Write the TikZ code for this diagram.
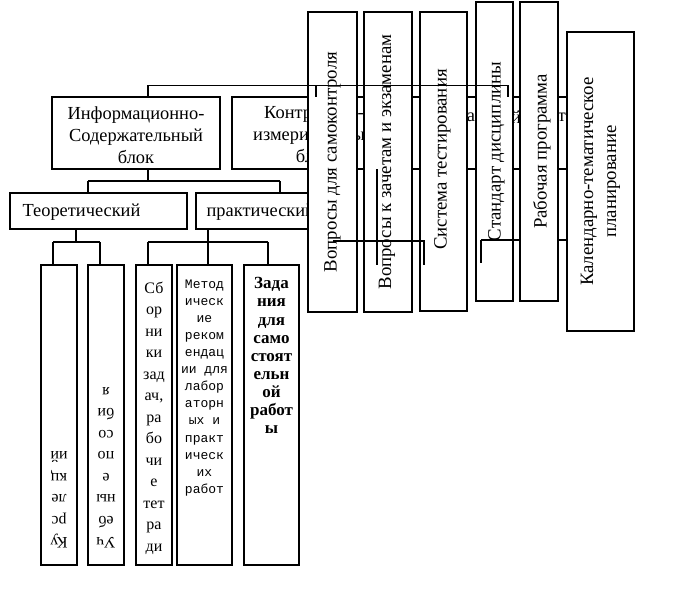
\documentclass[tikz,border=0pt]{standalone}
\usepackage{fontspec}
\setmainfont{Liberation Serif}
\newfontfamily\monofnt{Liberation Mono}
\begin{document}
\begin{tikzpicture}[x=1pt,y=-1pt,line width=1.2pt,
  box/.style={draw=black,fill=white,inner sep=0pt,outer sep=0pt,anchor=north west},
  big/.style={font=\fontsize{18.4}{22}\selectfont,align=center,inner sep=0pt},
  col/.style={font=\fontsize{16}{21.5}\selectfont,align=center,inner sep=0pt,anchor=north},
  colmono/.style={font=\monofnt\fontsize{13}{17.1}\selectfont,align=center,inner sep=0pt,anchor=north},
  colbold/.style={font=\bfseries\fontsize{17}{18.1}\selectfont,align=center,inner sep=0pt,anchor=north},
  vert/.style={font=\fontsize{18.8}{23}\selectfont,align=center,inner sep=0pt,rotate=90}]
\useasboundingbox (0,0) rectangle (689,602);
\fill[white] (0,0) rectangle (689,602);

% top level boxes
\node[box,minimum width=168pt,minimum height=72pt] (info) at (52,97) {};
\node[big] (infot) at ([yshift=-2pt]info.center) {Информационно-\\Содержательный\\блок};
\node[box,minimum width=368pt,minimum height=72pt] (kontr) at (232,97) {};
\node[big] (kontrt) at (314,135) {Контрольно-\\измерительный\\блок};
\node[big] (fr1) at (471,117) {а};
\node[big] (fr2) at (516,117) {й};
\node[big] (fr3) at (562,117) {т};

% second row
\node[box,minimum width=177pt,minimum height=36pt] (teo) at (10,193) {};
\node[big,anchor=west] (teot) at (22,212) {Теоретический};
\node[box,minimum width=134pt,minimum height=36pt] (prak) at (196,193) {};
\node[big,anchor=west] (prakt) at (206,212) {практический};

% bottom columns
\node[box,minimum width=36pt,minimum height=300pt] (b1) at (41,265) {};
\node[box,minimum width=36pt,minimum height=300pt] (b2) at (88,265) {};
\node[box,minimum width=36pt,minimum height=300pt] (b3) at (136,265) {};
\node[box,minimum width=55pt,minimum height=300pt] (b4) at (177,265) {};
\node[box,minimum width=55pt,minimum height=300pt] (b5) at (244,265) {};
\node[col,rotate=180] (b1t) at (59,549) {Ку\\рс\\ле\\кц\\ий};
\node[col,rotate=180] (b2t) at (106,549) {Уч\\еб\\ны\\е\\по\\со\\би\\я};
\node[col] (b3t) at (154,281) {Сб\\ор\\ни\\ки\\зад\\ач,\\ра\\бо\\чи\\е\\тет\\ра\\ди};
\node[colmono] (b4t) at (204.5,279) {Метод\\ическ\\ие\\реком\\ендац\\ии для\\лабор\\аторн\\ых и\\практ\\ическ\\их\\работ};
\node[colbold] (b5t) at (271.5,277) {Зада\\ния\\для\\само\\стоят\\ельн\\ой\\работ\\ы};

% connectors of the left tree
\coordinate (t0) at (148,85.5);
\coordinate (t1) at (316,85.5);
\coordinate (t2) at (508,85.5);
\draw (t0) -- (t0 |- info.north);
\coordinate (i1) at (148,181);
\draw (i1 |- info.south) -- (i1);
\draw (i1 -| 88,0) -- (i1 -| 280,0);
\draw (88,181) -- (88,181 |- teo.north);
\draw (280,181) -- (280,181 |- prak.north);
\coordinate (tj) at (76,242);
\draw (tj |- teo.south) -- (tj);
\draw (53,242) -- (100,242);
\draw (53,242) -- (53,242 |- b1.north);
\draw (100,242) -- (100,242 |- b2.north);
\coordinate (pj) at (208,242);
\draw (pj |- prak.south) -- (pj |- b4.north);
\draw (148,242) -- (268,242);
\draw (148,242) -- (148,242 |- b3.north);
\draw (268,242) -- (268,242 |- b5.north);

% right vertical boxes (first group)
\node[box,minimum width=49pt,minimum height=300pt] (r1) at (308,12) {};
\node[vert] (r1t) at (r1.center) {Вопросы для самоконтроля};
\node[box,minimum width=48pt,minimum height=300pt] (r2) at (364,12) {};
\node[vert] (r2t) at ([xshift=-1pt]r2.center) {Вопросы к зачетам и экзаменам};
\node[box,minimum width=47pt,minimum height=299pt] (r3) at (420,12) {};
\node[vert] (r3t) at ([xshift=-1pt,yshift=2pt]r3.center) {Система тестирования};
\node[box,minimum width=37pt,minimum height=299pt] (r4) at (476,2) {};
\node[vert] (r4t) at ([xshift=2pt]r4.center) {Стандарт дисциплины};

% lines drawn over the boxes
\draw (t0) -- (t2);
\draw (t1) -- (t1 |- kontr.north);
\draw (t2) -- (t2 |- kontr.north);
\coordinate (k1) at (377,241);
\draw (k1 |- kontr.south) -- (377,265);
\draw (333,241) -- (424,241) -- (424,265);
\coordinate (k2) at (481,240);
\draw (k2) -- (567,240);
\draw (k2) -- (481,263);

% right vertical boxes (second group)
\node[box,minimum width=38pt,minimum height=299pt] (r5) at (520,2) {};
\node[vert] (r5t) at ([xshift=3pt]r5.center) {Рабочая программа};
\node[box,minimum width=67pt,minimum height=299pt] (r6) at (567,32) {};
\node[vert] (r6t) at (r6.center) {Календарно-тематическое\\планирование};
\end{tikzpicture}
\end{document}
